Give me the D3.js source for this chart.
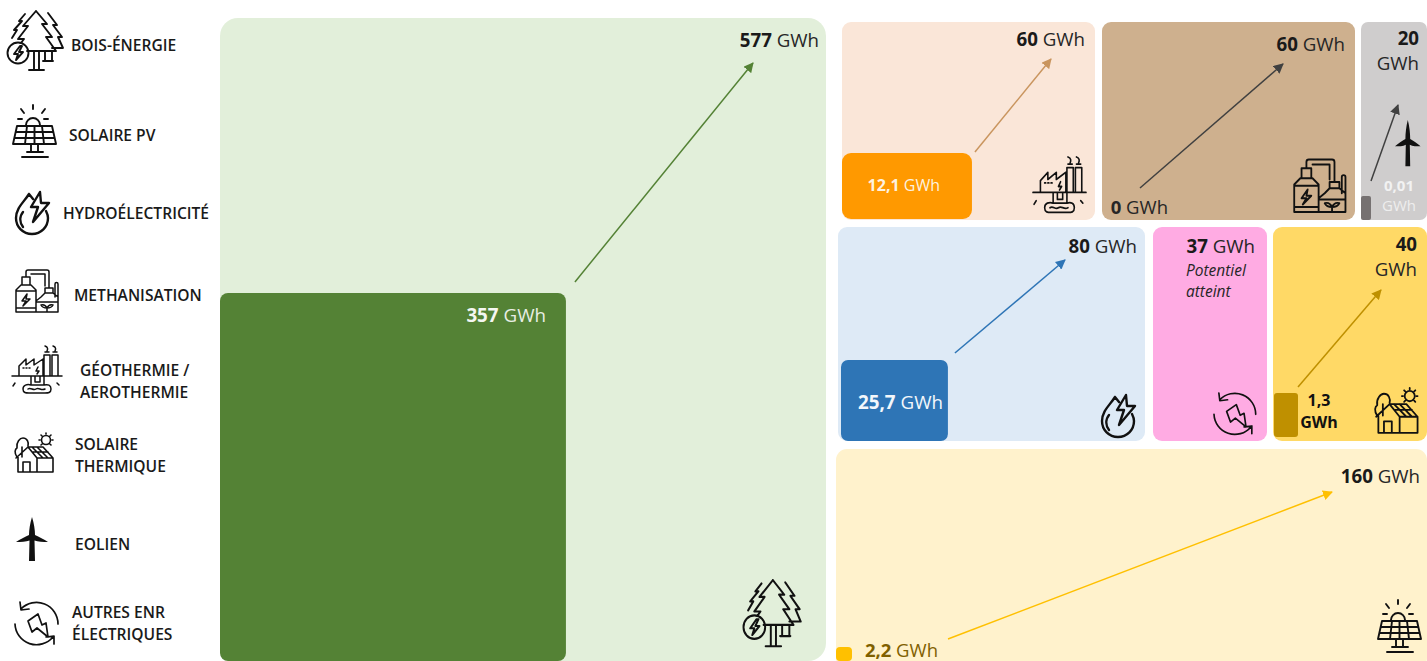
<!DOCTYPE html>
<html>

<head>
  <meta charset="utf-8">
  <title>Potentiel ENR</title>
  <style>
    html, body { margin: 0; padding: 0; background: #fff; overflow: hidden; }
    svg { display: block; font-family: "Open Sans", sans-serif; }
  </style>
</head>

<body>
  <svg id="svg" width="1427" height="661"></svg>

  <script src="https://d3js.org/d3.v7.min.js"></script>
  <script>
    // data, in GWh
    const categories = ['Bois-énergie', 'Solaire PV', 'Hydroélectricité', 'Methanisation', 'Géothermie', 'Solaire thermique', 'Eolien', 'Autres ENR']
    const current = [357, 2.2, 25.7, 0, 12.1, 1.3, 0.01, 37]
    const potential = [577, 160, 80, 60, 60, 40, 20, 37]
    const legendLines = [['BOIS-ÉNERGIE'], ['SOLAIRE PV'], ['HYDROÉLECTRICITÉ'], ['METHANISATION'], ['GÉOTHERMIE /', 'AEROTHERMIE'], ['SOLAIRE', 'THERMIQUE'], ['EOLIEN'], ['AUTRES ENR', 'ÉLECTRIQUES']]
    const unit = 'GWh'
    const note = ['Potentiel', 'atteint']

    // tile layout: x, y, w, h, corner radius
    const frames = [
      [220, 18, 606, 643, 18], [836, 449, 591, 220, 11], [838, 227, 307, 214, 9], [1102, 22, 253, 198, 9],
      [842, 22, 253, 198, 9], [1273, 227, 154, 214, 9], [1361, 22, 66, 198, 7], [1153, 227, 114, 214, 9]
    ]
    // the source is not to a common scale: pixels per GWh for each tile's bar
    const pxPerGwhX = [0.969, 7.27, 4.16, 0, 10.74, 18.46, 1000, 0]
    const pxPerGwhY = [1.031, 6.36, 3.15, 0, 5.45, 33.85, 2400, 0]
    const barInset = [[0, 0, 8], [0, 8, 4], [3, 0, 7], [0, 0, 0], [0, 1, 9], [1, 4, 3], [0, 0, 2], [0, 0, 0]]
    // arrow start, from the bar corner; arrow end, from the tile's top right corner
    const arrowFrom = [[9, -11], [96, -8], [7, -7], [38, -32], [3, -1], [0, -6], [0, -15], null]
    const arrowTo = [[-73, 45], [-95, 43], [-80, 33], [-72, 42], [-44, 37], [-46, 63], [-29, 83], null]

    const tileFill = ['#E2EFDA', '#FFF2CC', '#DEEAF6', '#CEB08E', '#FAE6D8', '#FFD966', '#CFCDCD', '#FFABE3']
    const barFill = ['#548235', '#FFC000', '#2E75B6', 'none', '#FF9900', '#BF9000', '#767171', 'none']
    const arrowColor = ['#548235', '#FFC000', '#2E75B6', '#404040', '#C9955E', '#BF9000', '#404040', 'none']

    // value labels: x, y baseline, anchor, size, number colour, unit colour, two lines or not
    const currentLabels = [
      [546, 322, 'end', 18.8, '#f4f7f1', '#e8eee4', false], [938, 657, 'end', 18.5, '#7F6000', '#7F6000', false],
      [943, 409, 'end', 18.8, '#f3f7fb', '#f3f7fb', false], [1168, 214, 'end', 18.5, '#262626', '#262626', false],
      [940, 191, 'end', 16, '#fdf1df', '#fdf1df', false], [1319, 406, 'middle', 16, '#111', '#111', true],
      [1399, 191, 'middle', 15, '#f2f2f2', '#eeeeee', true], null
    ]
    const potentialLabels = [
      [819, 47, 'end', 18.7, true], [1420, 483, 'end', 18.7, true], [1137, 253, 'end', 18.7, true], [1345, 51, 'end', 18.7, true],
      [1085, 46, 'end', 18.7, true], [1417, 251, 'end', 18.7, false], [1419, 45, 'end', 18.7, false], [1255, 253, 'end', 18.7, true]
    ]

    // line icons, drawn once and reused in the legend and the tiles
    const icons = {
      tree: 'M29 1L40 14H35L45 27H39L49 41H20M29 1L16 16H21L11 29H17L14 33M41 3L50 15H46L55 27H51L56 38H45M18 4L12 11H15L7 20H10L5 28M27 41V60M32 41V60M22 60H37M38 41V51H45V41M36 51H46M13 36L7 44H11L9 50L16 42H12L15 36ZM0.5 43a10.5 10.500 0 1 0 21 0a10.500 10.500 0 1 0 -21 0',
      solar: 'M14 20A7 7 0 1 1 28 20M21 0V4M9 4L12 8M33 4L30 8M6 14H10M36 14H32M5 21H40L44 39H1ZM4 27H41M2.500 33H42.500M15 21L13 39M22.500 21V39M30 21L32 39M19 39V47M26 39V47M15 47H31M10 52H36',
      drop: 'M14 2C9 10 1 16 1 26C1 35 8 42 17 42C26 42 33 35 33 26C33 23 32 21 31 19M14 2L18 7M25 0L16 15H23L18 30L34 11H26ZM8 20C4 25 5 31 8 35',
      biogas: 'M1 44V22L6 17H16L21 22V44ZM1 23H21M1 40H21M7 9H15V17H7ZM11 9V4Q11 2 13 2H32Q34 2 34 4V20M16 6H30M30 6V18M21 33L26 29L30 25H38L43 29V44H21M30 20H38V25H30ZM40 29V16A1.500 1.500 0 0 1 43 16V29M21 34H43M32 44V40M32 40C29 40 27 39 26 37C29 36 31 38 32 40C33 38 35 36 38 37C37 39 35 40 32 40M12 26L7 33H11L8 38L15 31H11Z',
      geo: 'M0 30H50M7 30V20L14 13V19L22 13V19L31 13V30M32 30V9H38V30M40 30V9H46V30M33 6H37M41 6H45M33 0C36 1 36 3 35 5M41 0C44 1 44 3 43 5M19 30V39M32 30V39M23 30V36H28V30M11 43C11 39 15 38 19 39H32C36 38 39 39 39 43C39 47 36 47 33 47H17C14 47 11 47 11 43M16 43C19 41 21 45 24 43C27 41 29 45 33 43M11 22H12M14 22H15M17 22H18M26 21L24 25H27L25 28M3 37L1 40M45 37L47 39',
      house: 'M26.500 7a4.500 4.500 0 1 0 9 0a4.500 4.500 0 1 0 -9 0M31 0V1M38 7H37M25 7H24M26 2L27 3M36 2L35 3M36 12L35 11M26 12L27 11M13 14H28L38 25H22ZM13 14L1 25M17 14L28 25M22 14L33 25M18 19H33M3 24V39H38V25M22 25V39M8 39V29H15V39M2 24C-1 20 0 16 2 15C1 9 5 5 8 5C12 5 14 9 13 13M7 14V24',
      wind: 'M16 0C18 6 19 13 19 18C23 20 28 22 32 25C27 25 22 25 18.500 23.500L19 44H13L13.500 23.500C10 25 5 25 0 25C4 22 9 20 13 18C13 13 14 6 16 0Z',
      cycle: 'M6 8A21.500 21.500 0 0 1 43 23M5 1L6 9L14 8M0 23A21.500 21.500 0 0 0 38 36M31 36L39 35L39 43M13 20L23 13L27 24L31 22L33 36L22 27L17 31Z'
    }
    const iconName = ['tree', 'solar', 'drop', 'biogas', 'geo', 'house', 'wind', 'cycle']
    const iconStroke = [1.9, 1.9, 2.4, 1.5, 1.5, 1.6, 0, 1.7]
    // icon placement: x, y, x scale, y scale
    const legendIconAt = [[7, 10, 1, 1], [12, 105, 1, 1], [15, 192, 1, 1], [15, 268, 1, 1], [12, 346, 1, 1], [15, 433, 1, 1], [16, 517, 1, 1], [15, 601, 1, 1]]
    const tileIconAt = [[743, 579, 1.03, 1.12], [1377, 600, 1, 1], [1101, 395, 1, 1], [1293, 157, 1.22, 1.25], [1033, 157, 1.06, 1.18], [1375, 388, 1.12, 1.15], [1395, 120, 0.8, 1.05], [1214, 392, 0.97, 0.97]]
    const legendTextAt = [[71, 51], [69, 141], [63, 219], [74, 301], [80, 376], [75, 450], [75, 550], [72, 618]]

    const svg = d3.select('#svg')
    const decimal = v => String(v).replace('.', ',')

    function drawIcon(i, at) {
      const name = iconName[i]
      svg.append('path')
        .attr('transform', `translate(${at[0]},${at[1]}) scale(${at[2]},${at[3]})`)
        .attr('d', icons[name])
        .attr('fill', name === 'wind' ? '#111' : 'none')
        .attr('stroke', '#111')
        .attr('stroke-width', iconStroke[i])
        .attr('stroke-linejoin', 'round')
        .attr('stroke-linecap', 'round')
    }

    function drawValue(value, spec) {
      const [x, y, anchor, size, numberFill, unitFill, twoLines] = spec
      const text = svg.append('text')
        .attr('x', x).attr('y', y)
        .attr('text-anchor', anchor)
        .attr('font-size', size)
      text.append('tspan').attr('font-weight', 700).attr('fill', numberFill).text(decimal(value))
      const second = text.append('tspan').attr('fill', unitFill).text(twoLines ? unit : ' ' + unit)
      if (twoLines) second.attr('x', x).attr('dy', size * 1.35)
      return second
    }

    // markers, one per arrow colour
    const defs = svg.append('defs')
    defs.selectAll('marker')
      .data(categories)
      .join('marker')
      .attr('id', (d, i) => 'head' + i)
      .attr('viewBox', '0 0 10 10')
      .attr('refX', 9).attr('refY', 5)
      .attr('markerWidth', 10).attr('markerHeight', 10)
      .attr('markerUnits', 'userSpaceOnUse')
      .attr('orient', 'auto')
      .append('path')
      .attr('d', 'M0 0L10 5L0 10Z')
      .attr('fill', (d, i) => arrowColor[i])

    categories.forEach((name, i) => {
      const [fx, fy, fw, fh, fr] = frames[i]

      svg.append('rect')
        .attr('x', fx).attr('y', fy)
        .attr('width', fw).attr('height', fh)
        .attr('rx', fr)
        .attr('fill', tileFill[i])

      if (current[i] >= potential[i]) return // potential reached: no bar, no arrow

      const barW = d3.scaleLinear().domain([0, 1]).range([0, pxPerGwhX[i]])(current[i])
      const barH = d3.scaleLinear().domain([0, 1]).range([0, pxPerGwhY[i]])(current[i])
      const [insetX, insetY, barR] = barInset[i]
      const cornerX = fx + insetX + barW
      const cornerY = fy + fh - insetY - barH

      svg.append('rect')
        .attr('x', fx + insetX).attr('y', cornerY)
        .attr('width', barW).attr('height', barH)
        .attr('rx', barR)
        .attr('fill', barFill[i])

      svg.append('line')
        .attr('x1', cornerX + arrowFrom[i][0]).attr('y1', cornerY + arrowFrom[i][1])
        .attr('x2', fx + fw + arrowTo[i][0]).attr('y2', fy + arrowTo[i][1])
        .attr('stroke', arrowColor[i])
        .attr('stroke-width', 1.5)
        .attr('marker-end', `url(#head${i})`)
    })

    // labels go on top of the bars and arrows
    categories.forEach((name, i) => {
      if (currentLabels[i]) {
        const line = drawValue(current[i], currentLabels[i])
        if (i === 5) line.attr('font-weight', 700)
      }
      const [x, y, anchor, size, oneLine] = potentialLabels[i]
      drawValue(potential[i], [x, y, anchor, size, '#1a1a1a', '#262626', !oneLine])

      drawIcon(i, tileIconAt[i])
      drawIcon(i, legendIconAt[i])

      const legend = svg.append('text')
        .attr('font-size', 15.6)
        .attr('font-weight', 600)
        .attr('fill', '#1a1a1a')
      legendLines[i].forEach((line, k) => {
        legend.append('tspan')
          .attr('x', legendTextAt[i][0])
          .attr('y', legendTextAt[i][1] + k * 22)
          .text(line)
      })
    })

    note.forEach((line, k) => {
      svg.append('text')
        .attr('x', 1186).attr('y', 276 + k * 21)
        .attr('font-size', 15.5)
        .attr('font-style', 'italic')
        .attr('fill', '#262626')
        .text(line)
    })
  </script>
</body>

</html>
